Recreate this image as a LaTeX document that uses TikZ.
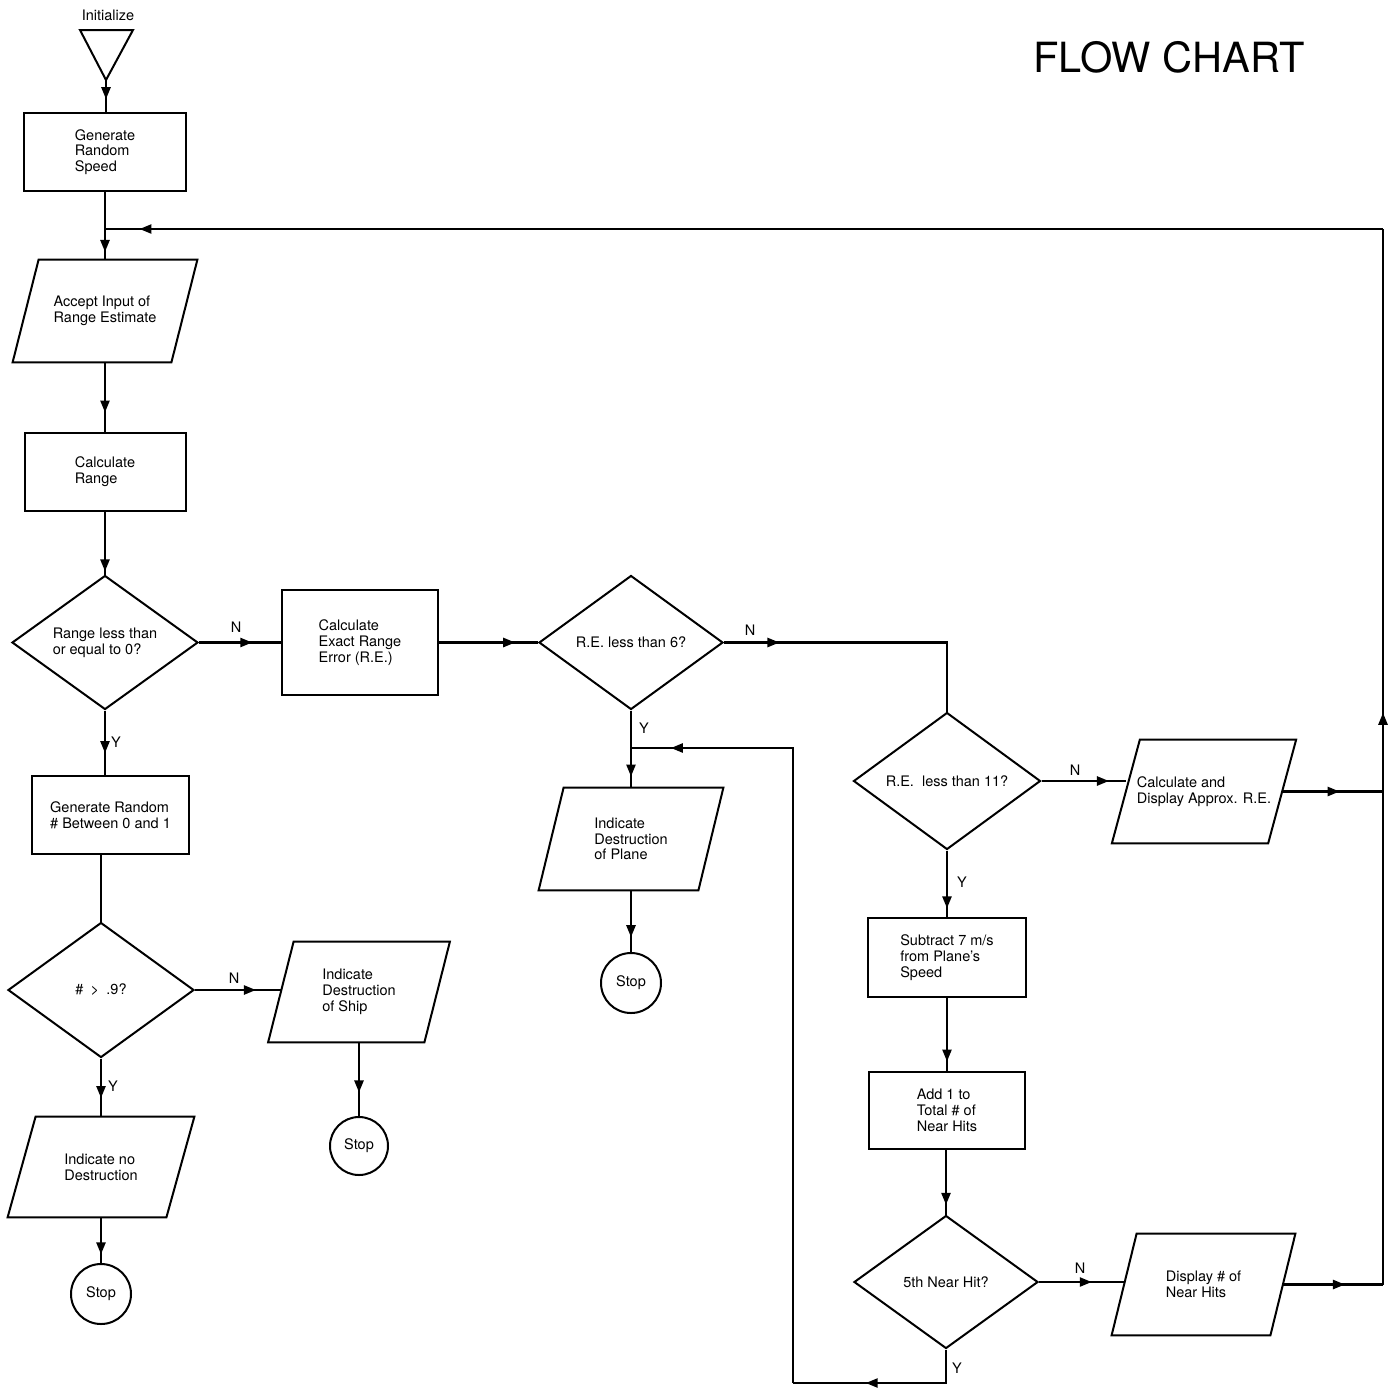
\documentclass[tikz,border=0pt]{standalone}
\usepackage{fontspec}
\setmainfont{TeX Gyre Heros}
\usetikzlibrary{shapes.geometric,arrows.meta,decorations.markings,calc}
\begin{document}
\begin{tikzpicture}[x=0.5pt,y=-0.5pt,
  every node/.style={font=\fontsize{7.25}{7.9}\selectfont, inner sep=0pt},
  box/.style={draw, rectangle, line width=1pt, align=left},
  io/.style={rectangle, align=left},
  dec/.style={draw, diamond, line width=1pt, align=left, inner sep=0pt},
  stopc/.style={draw, circle, line width=1pt, minimum size=30pt},
  lbl/.style={font=\fontsize{7.25}{7.9}\selectfont},
  conn/.style={line width=1.2pt},
  arr/.style={conn, postaction={decorate}, decoration={markings, mark=at position #1 with {\arrow{Triangle[length=6pt,width=4.5pt]}}}},
  ioline/.style={line width=1pt}
]
\useasboundingbox (0,0) rectangle (1393,1388);

% title and start
\node[font=\fontsize{20.8}{24}\selectfont] (title) at (1169,57) {FLOW CHART};
\node (initlbl) at (108,15) {Initialize};
\coordinate (apex) at (106,80);
\draw[line width=1pt] (80,30) -- (133,30) -- (apex) -- cycle;

% nodes
\node[box, minimum width=81pt, minimum height=39pt] (gen) at (105,152) {Generate\\Random\\Speed};
\node[io, minimum width=79pt, minimum height=51pt] (acc) at (105,311) {Accept Input of\\Range Estimate};
\node[box, minimum width=80.5pt, minimum height=39pt] (calcr) at (105,472) {Calculate\\Range};
\node[dec, minimum width=93pt, minimum height=67pt] (d1) at (105,642.5) {Range less than\\or equal to 0?};
\node[box, minimum width=78.5pt, minimum height=39pt] (rnd) at (110.5,815) {Generate Random\\\# Between 0 and 1};
\node[dec, minimum width=93pt, minimum height=67.5pt] (d4) at (101,990) {\#\enspace>\enspace.9?};
\node[io, minimum width=79pt, minimum height=50pt] (nodest) at (101,1167) {Indicate no\\Destruction};
\node[stopc] (stop3) at (101,1294) {Stop};
\node[box, minimum width=78pt, minimum height=52.5pt] (exact) at (360,642.5) {Calculate\\Exact Range\\Error (R.E.)};
\node[dec, minimum width=92pt, minimum height=67pt] (d2) at (631,642.5) {R.E. less than 6?};
\node[io, minimum width=79.5pt, minimum height=51pt] (ind) at (631,839) {Indicate\\Destruction\\of Plane};
\node[stopc] (stop1) at (631,983) {Stop};
\node[io, minimum width=77.75pt, minimum height=50pt] (ship) at (359,992) {Indicate\\Destruction\\of Ship};
\node[stopc, minimum size=29pt] (stop2) at (359,1146) {Stop};
\node[dec, minimum width=93.5pt, minimum height=68.5pt] (d3) at (947,781) {R.E.\ \ less than 11?};
\node[io, minimum width=77.75pt, minimum height=51.5pt] (appr) at (1204,791.5) {Calculate and\\Display Approx. R.E.};
\node[box, minimum width=79pt, minimum height=39.5pt] (sub) at (947,957.5) {Subtract 7 m/s\\from Plane's\\Speed};
\node[box, minimum width=78pt, minimum height=38.5pt] (add) at (947,1110.5) {Add 1 to\\Total \# of\\Near Hits};
\node[dec, minimum width=92pt, minimum height=66.5pt] (d5) at (946,1282) {5th Near Hit?};
\node[io, minimum width=79pt, minimum height=50.5pt] (disp) at (1203.5,1284.5) {Display \# of\\Near Hits};

% parallelogram outlines
\foreach \n/\s in {acc/13, ind/12.5, appr/14, disp/12.5, ship/12.75, nodest/14}
  \draw[ioline] ($(\n.north west)+(\s,0)$) -- ($(\n.north east)+(\s,0)$)
     -- ($(\n.south east)-(\s,0)$) -- ($(\n.south west)-(\s,0)$) -- cycle;

% helper coordinates
\coordinate (jA) at (105,229);
\coordinate (jB) at (631,748);
\coordinate (cL) at (793,1383);
\coordinate (rR1) at (1383,791.5);
\coordinate (rR2) at (1383,1284.5);
\coordinate (rTop) at (1383,229);

% connectors
\draw[arr=0.6] (apex) -- (apex |- gen.north);
\draw[conn] (gen.south) -- (jA);
\draw[arr=0.75] (jA) -- (acc.north);
\draw[arr=0.72] (acc.south) -- (calcr.north);
\draw[arr=0.95] (calcr.south) -- (d1.north);
\draw[arr=0.65] (d1.east) -- (exact.west);
\draw[arr=0.66] (d1.south) -- (d1.south |- rnd.north);
\draw[conn] (d4.north |- rnd.south) -- (d4.north);
\draw[arr=0.71] (d4.east) -- (d4.east -| ship.west);
\draw[arr=0.68] (d4.south) -- (nodest.north);
\draw[arr=0.81] (nodest.south) -- (stop3.north);
\draw[arr=0.68] (ship.south) -- (stop2.north);
\draw[arr=0.77] (exact.east) -- (d2.west);
\draw[arr=0.19] (d2.east) -| (d3.north);
\draw[conn] (d2.south) -- (jB);
\draw[arr=0.72] (jB) -- (ind.north);
\draw[arr=0.76] (ind.south) -- (stop1.north);
\draw[arr=0.61] (d5.south) |- (cL);
\draw[arr=0.95] (cL) |- (jB);
\draw[arr=0.8] (d3.east) -- (d3.east -| appr.west);
\draw[arr=0.57] (appr.east) -- (rR1);
\draw[arr=0.87] (d3.south) -- (d3.south |- sub.north);
\draw[arr=0.87] (sub.south) -- (add.north);
\draw[arr=0.85] (d5.north |- add.south) -- (d5.north);
\draw[arr=0.62] (d5.east) -- (d5.east -| disp.west);
\draw[arr=0.62] (disp.east) -- (rR2);
\draw[conn] (rR2) -- (rR1);
\draw[arr=0.14] (rR1) -- (rTop);
\draw[arr=0.973] (rTop) -- (jA);

% branch labels
\node[lbl] (n1) at (236,627) {N};
\node[lbl] (y1) at (116,742) {Y};
\node[lbl] (n4) at (234,978) {N};
\node[lbl] (y4) at (113,1086) {Y};
\node[lbl] (n2) at (750,630) {N};
\node[lbl] (y2) at (644,728) {Y};
\node[lbl] (n3) at (1075,770) {N};
\node[lbl] (y3) at (962,882) {Y};
\node[lbl] (n5) at (1080,1268) {N};
\node[lbl] (y5) at (957,1368) {Y};
\end{tikzpicture}
\end{document}
